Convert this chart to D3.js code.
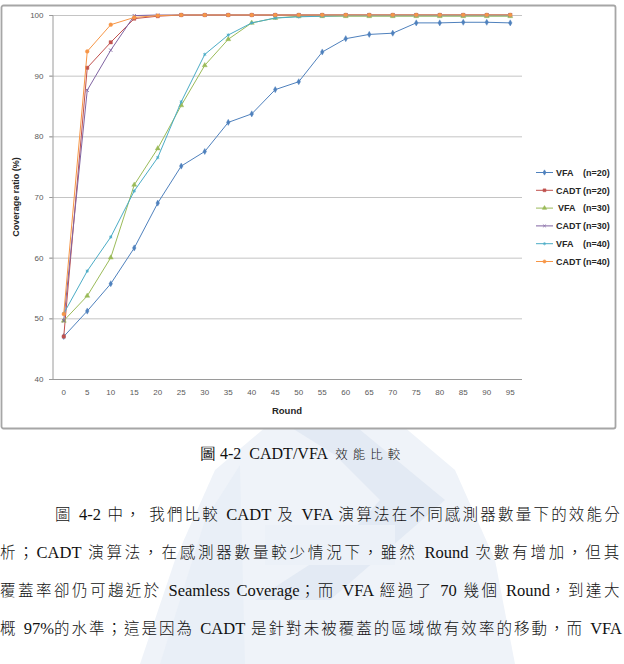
<!DOCTYPE html>
<html>
<head>
<meta charset="utf-8">
<script src="https://d3js.org/d3.v7.min.js"></script>
<style>
  body { margin: 0; background: #fff; }
  svg text { font-family: "Liberation Sans", Arial, sans-serif; }
</style>
</head>
<body>
<svg id="chart" width="624" height="664"></svg>
<script>
// data
const rounds = [0, 5, 10, 15, 20, 25, 30, 35, 40, 45, 50, 55, 60, 65, 70, 75, 80, 85, 90, 95];
const vfa20  = [47.0, 51.2, 55.7, 61.6, 69.0, 75.1, 77.5, 82.3, 83.7, 87.7, 89.0, 93.9, 96.1, 96.8, 97.0, 98.7, 98.7, 98.8, 98.8, 98.7];
const cadt20 = [47.0, 91.3, 95.5, 99.4, 99.8, 100, 100, 100, 100, 100, 100, 100, 100, 100, 100, 100, 100, 100, 100, 100];
const vfa30  = [49.6, 53.7, 60.0, 72.0, 78.0, 85.1, 91.7, 96.0, 98.7, 99.5, 99.8, 99.8, 99.8, 99.8, 99.8, 99.8, 99.8, 99.8, 99.8, 99.8];
const cadt30 = [49.6, 87.6, 94.2, 99.9, 100, 100, 100, 100, 100, 100, 100, 100, 100, 100, 100, 100, 100, 100, 100, 100];
const vfa40  = [50.8, 57.8, 63.4, 71.0, 76.5, 85.7, 93.5, 96.7, 98.7, 99.5, 99.7, 99.8, 99.9, 99.9, 99.9, 99.9, 99.9, 99.9, 99.9, 99.9];
const cadt40 = [50.7, 94.0, 98.4, 99.6, 99.9, 100, 100, 100, 100, 100, 100, 100, 100, 100, 100, 100, 100, 100, 100, 100];
const yTicks = [40, 50, 60, 70, 80, 90, 100];

const seriesNames = ["VFA", "CADT", "VFA", "CADT", "VFA", "CADT"];
const seriesN = ["(n=20)", "(n=20)", "(n=30)", "(n=30)", "(n=40)", "(n=40)"];
const seriesValues = [vfa20, cadt20, vfa30, cadt30, vfa40, cadt40];

const captionParts = ["圖 4-2  CADT/VFA  ", "效能比較"];
const paragraph = [
  "圖 4-2 中， 我們比較 CADT 及 VFA 演算法在不同感測器數量下的效能分",
  "析；CADT 演算法，在感測器數量較少情況下，雖然 Round 次數有增加，但其",
  "覆蓋率卻仍可趨近於 Seamless Coverage；而 VFA 經過了 70 幾個 Round，到達大",
  "概 97%的水準；這是因為 CADT 是針對未被覆蓋的區域做有效率的移動，而 VFA"
];

const colors = ["#4F81BD", "#C0504D", "#9BBB59", "#8064A2", "#4BACC6", "#F79646"];
const shapes = [d3.symbolDiamond, d3.symbolSquare, d3.symbolTriangle, d3.symbolX, d3.symbolAsterisk, d3.symbolCircle];

const svg = d3.select("#chart");

// faint watermark behind the text
const wm = svg.append("g").attr("stroke", "none");
wm.append("path")
  .attr("d", "M140,664 L175,560 L215,470 L280,415 L390,415 L455,470 L495,560 L515,664 Z")
  .attr("fill", "#eff3f9");
wm.append("path")
  .attr("d", "M255,405 L330,405 L445,500 L330,600 L255,600 L340,545 L380,500 L335,455 Z")
  .attr("fill", "#e3eaf4");
wm.append("path")
  .attr("d", "M160,664 L205,520 L240,465 L245,664 Z")
  .attr("fill", "#e9eff7");
wm.append("path")
  .attr("d", "M265,525 L395,525 L395,565 L265,565 Z")
  .attr("fill", "#ecf1f8");

// chart frame
svg.append("rect")
  .attr("x", 1.5).attr("y", 5.5).attr("width", 614).attr("height", 423)
  .attr("rx", 2)
  .attr("fill", "#fff")
  .attr("stroke", "#a6a6a6").attr("stroke-width", 1.8);

const x = d3.scaleBand().domain(rounds).range([52, 522]);
const y = d3.scaleLinear().domain([40, 100]).range([379, 15]);

// gridlines
svg.append("g")
  .selectAll("line")
  .data(yTicks)
  .join("line")
  .attr("x1", 49).attr("x2", 522)
  .attr("y1", d => y(d) + 0.5).attr("y2", d => y(d) + 0.5)
  .attr("stroke", d => d === 40 ? "#9a9a9a" : "#c4c4c4")
  .attr("stroke-width", 1);

// y axis
const yAxis = svg.append("g").attr("transform", "translate(52.5,0)")
  .call(d3.axisLeft(y).tickValues(yTicks).tickSize(3).tickPadding(6));
yAxis.select(".domain").attr("stroke", "#9a9a9a");
yAxis.selectAll(".tick line").attr("stroke", "#9a9a9a");
yAxis.selectAll("text").attr("fill", "#595959").style("font-size", "8px");

// x axis labels
const xAxis = svg.append("g").attr("transform", "translate(0,379.5)")
  .call(d3.axisBottom(x).tickSize(0).tickPadding(10));
xAxis.select(".domain").remove();
xAxis.selectAll("text").attr("fill", "#595959").style("font-size", "8px");

// axis titles
svg.append("text")
  .attr("x", 287).attr("y", 414).attr("text-anchor", "middle")
  .style("font-size", "9.5px").style("font-weight", "bold").attr("fill", "#262626")
  .text("Round");
svg.append("text")
  .attr("transform", "translate(19,197) rotate(-90)")
  .attr("text-anchor", "middle")
  .style("font-size", "9px").style("font-weight", "bold").attr("fill", "#262626")
  .text("Coverage ratio (%)");

// series
const line = d3.line()
  .x((d, i) => x(rounds[i]) + x.bandwidth() / 2)
  .y(d => y(d));

seriesValues.forEach((vals, k) => {
  const g = svg.append("g");
  g.append("path")
    .datum(vals)
    .attr("d", line)
    .attr("fill", "none")
    .attr("stroke", colors[k])
    .attr("stroke-width", 1);
  g.selectAll("path.mk")
    .data(vals)
    .join("path")
    .attr("class", "mk")
    .attr("transform", (d, i) => `translate(${x(rounds[i]) + x.bandwidth() / 2},${y(d)})`)
    .attr("d", d3.symbol().type(shapes[k]).size(k === 3 || k === 4 ? 8 : 11))
    .attr("fill", colors[k])
    .attr("stroke", colors[k])
    .attr("stroke-width", k === 3 || k === 4 ? 0.9 : 0.4);
});

// legend
const legend = svg.append("g");
seriesNames.forEach((name, k) => {
  const ly = 172.5 + k * 17.8;
  legend.append("line")
    .attr("x1", 536).attr("x2", 553).attr("y1", ly).attr("y2", ly)
    .attr("stroke", colors[k]).attr("stroke-width", 1);
  legend.append("path")
    .attr("transform", `translate(544.5,${ly})`)
    .attr("d", d3.symbol().type(shapes[k]).size(8))
    .attr("fill", colors[k]).attr("stroke", colors[k]).attr("stroke-width", 0.6);
  const t = legend.append("text")
    .attr("x", k === 2 ? 558 : 556).attr("y", ly + 3.3)
    .style("font-size", "9px").style("font-weight", "bold").attr("fill", "#262626");
  t.append("tspan").text(name);
  t.append("tspan").attr("x", 583).text(seriesN[k]);
});

// caption and paragraph below the chart
const latin = '"Liberation Serif", "Times New Roman", serif';
const cjkFont = '"Noto Sans CJK TC", sans-serif';
const isCjk = ch => /[\u3000-\u9fff\uff00-\uffef]/.test(ch);

function splitRuns(str) {
  const runs = [];
  for (const ch of str) {
    const c = isCjk(ch);
    if (runs.length && runs[runs.length - 1].cjk === c) runs[runs.length - 1].s += ch;
    else runs.push({ s: ch, cjk: c });
  }
  return runs;
}

const cap = svg.append("text")
  .attr("x", 200).attr("y", 459)
  .attr("fill", "#111").style("white-space", "pre");
cap.append("tspan").style("font-family", latin).style("font-size", "16px").text(captionParts[0]);
cap.append("tspan").style("font-family", cjkFont).style("font-size", "12.5px")
  .style("font-weight", "300").style("letter-spacing", "5px").text(captionParts[1]);

// justified lines: extra room goes between the CJK glyphs and spaces
paragraph.forEach((str, i) => {
  const x0 = i === 0 ? 55 : 0, x1 = 622;
  const t = svg.append("text")
    .attr("x", x0).attr("y", 520 + i * 38)
    .attr("fill", "#111").style("white-space", "pre");
  const runs = splitRuns(str);
  const spans = runs.map(r => t.append("tspan")
    .style("font-family", r.cjk ? cjkFont : latin)
    .style("font-size", r.cjk ? "15.5px" : "16.5px")
    .style("font-weight", r.cjk ? "300" : "400")
    .text(r.s));
  const natural = t.node().getComputedTextLength();
  let slots = 0;
  runs.forEach(r => { for (const ch of r.s) if (r.cjk || ch === " ") slots++; });
  const extra = Math.max(0, (x1 - x0 - natural) / slots);
  spans.forEach((sp, j) => {
    if (runs[j].cjk) sp.style("letter-spacing", extra + "px");
    else sp.style("word-spacing", extra + "px");
  });
});
</script>
</body>
</html>
